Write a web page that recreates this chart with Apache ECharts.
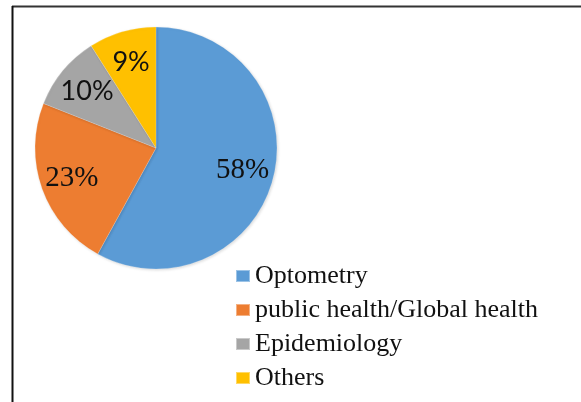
<!DOCTYPE html>
<html>
<head>
<meta charset="utf-8">
<style>
  html, body { margin: 0; padding: 0; background: #fff; }
  #main { width: 581px; height: 402px; }
</style>
<script src="https://cdn.jsdelivr.net/npm/echarts@6/dist/echarts.min.js"></script>
</head>
<body>
<div id="main"></div>
<script>
  var categories = ['Optometry', 'public health/Global health', 'Epidemiology', 'Others'];
  var values = [58, 23, 10, 9];
  var myColor = ['#5b9bd5', '#ed7d31', '#a5a5a5', '#ffc000'];

  // the two small slices use a sans face in the original
  var labelFonts = ['Liberation Serif', 'Liberation Serif', 'Lato', 'Lato'];
  var labelSizes = [29, 29, 27, 27];

  var pieData = [];
  var labelData = [];
  for (var i = 0; i < categories.length; i++) {
    pieData.push({ name: categories[i], value: values[i] });
    labelData.push({
      name: categories[i],
      value: values[i],
      label: { fontFamily: labelFonts[i], fontSize: labelSizes[i] }
    });
  }

  var chart = echarts.init(document.getElementById('main'));
  chart.setOption({
    backgroundColor: '#fff',
    color: myColor,
    animation: false,
    graphic: [
      { type: 'line', shape: { x1: 12, y1: 6.5, x2: 581, y2: 6.5 }, style: { stroke: '#333', lineWidth: 2 } },
      { type: 'line', shape: { x1: 12.5, y1: 6, x2: 12.5, y2: 402 }, style: { stroke: '#111', lineWidth: 2 } }
    ],
    legend: {
      orient: 'vertical',
      left: 230,
      top: 258,
      itemWidth: 14,
      itemHeight: 12,
      itemGap: 8,
      icon: 'rect',
      data: categories,
      textStyle: {
        fontFamily: 'Liberation Serif',
        fontSize: 26,
        color: '#111'
      }
    },
    series: [{
      type: 'pie',
      center: [156, 148],
      radius: 121,
      startAngle: 90,
      clockwise: true,
      data: pieData,
      itemStyle: {
        borderColor: 'rgba(255,255,255,0.4)',
        borderWidth: 0.5,
        shadowColor: 'rgba(0,0,0,0.15)',
        shadowBlur: 3,
        shadowOffsetX: 1,
        shadowOffsetY: 1
      },
      label: { show: false },
      labelLine: { show: false },
      emphasis: { disabled: true }
    }, {
      // transparent ring only to place the percent labels further out
      type: 'pie',
      center: [156, 148],
      radius: [52, 121],
      startAngle: 90,
      clockwise: true,
      silent: true,
      data: labelData,
      itemStyle: { color: 'rgba(0,0,0,0)' },
      label: {
        show: true,
        position: 'inside',
        formatter: '{c}%',
        color: '#111'
      },
      labelLine: { show: false },
      emphasis: { disabled: true }
    }]
  });
</script>
</body>
</html>
